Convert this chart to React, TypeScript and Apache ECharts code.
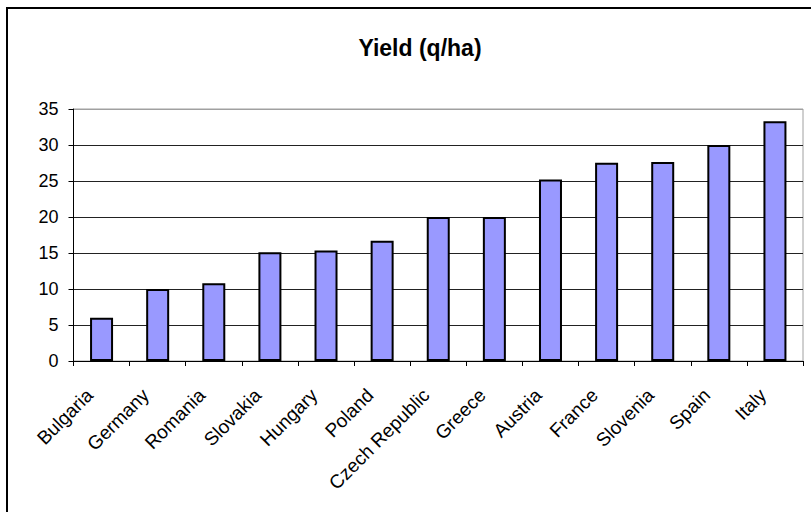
import React, { useEffect, useRef } from "react";
import * as echarts from "echarts";

const categories = [
  "Bulgaria", "Germany", "Romania", "Slovakia", "Hungary", "Poland",
  "Czech Republic", "Greece", "Austria", "France", "Slovenia", "Spain", "Italy",
];
const yieldValues = [6.0, 10.0, 10.8, 15.1, 15.35, 16.7, 20.0, 20.0, 25.2, 27.55, 27.65, 30.0, 33.3];
const titleText = "Yield (q/ha)";
const yMin = 0;
const yMax = 35;
const yInterval = 5;

const FONT = "'Liberation Sans', Arial, sans-serif";

export default function App() {
  const ref = useRef<HTMLDivElement>(null);
  useEffect(() => {
    if (!ref.current) return;
    const chart = echarts.init(ref.current, null, { renderer: "svg" });
    chart.setOption({
      animation: false,
      backgroundColor: "#fff",
      title: {
        text: titleText,
        left: 415,
        top: 31,
        textAlign: "center",
        textStyle: { fontFamily: FONT, fontSize: 23, fontWeight: "bold", color: "#000" },
      },
      graphic: [
        {
          type: "rect",
          shape: { x: 7, y: 8, width: 840, height: 540 },
          style: { fill: "none", stroke: "#000", lineWidth: 2 },
          silent: true,
        },
      ],
      grid: {
        left: 73.5,
        right: 8,
        top: 109,
        bottom: 151,
        show: true,
        borderColor: "#a0a0a0",
        borderWidth: 1,
        backgroundColor: "transparent",
      },
      xAxis: {
        type: "category",
        data: categories,
        boundaryGap: true,
        axisLine: { show: true, lineStyle: { color: "#000", width: 1 } },
        axisTick: { show: true, inside: false, length: 5, lineStyle: { color: "#000" } },
        axisLabel: {
          interval: 0,
          rotate: 45,
          margin: 19,
          padding: [0, 17, 0, 0],
          fontFamily: FONT,
          fontSize: 19,
          color: "#000",
        },
        splitLine: { show: false },
      },
      yAxis: {
        type: "value",
        min: yMin,
        max: yMax,
        interval: yInterval,
        axisLine: { show: true, lineStyle: { color: "#000", width: 1 } },
        axisTick: { show: true, inside: false, length: 5, lineStyle: { color: "#000" } },
        axisLabel: { margin: 15, fontFamily: FONT, fontSize: 18, color: "#000" },
        splitLine: {
          show: true,
          lineStyle: {
            color: ["#222", "#222", "#222", "#222", "#222", "#222", "#222", "#a0a0a0"],
            width: 1,
          },
        },
      },
      series: [
        {
          type: "bar",
          data: yieldValues,
          barWidth: 23,
          itemStyle: { color: "#9999ff", borderColor: "#000", borderWidth: 2 },
        },
      ],
    });
    return () => chart.dispose();
  }, []);
  return (
    <div
      ref={ref}
      style={{ position: "absolute", left: 0, top: 0, width: 811, height: 512, background: "#fff" }}
    />
  );
}
